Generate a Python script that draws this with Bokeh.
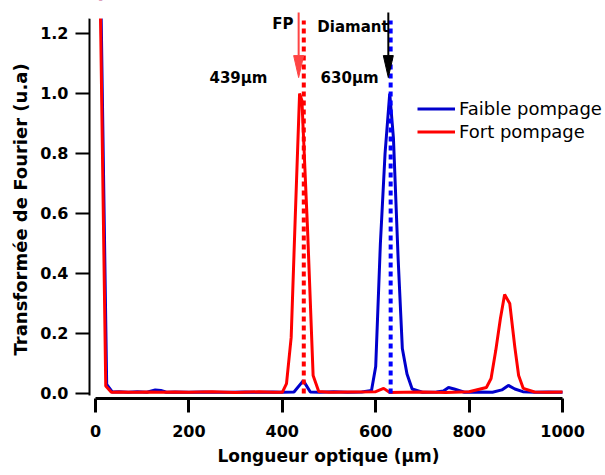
from bokeh.plotting import figure
from bokeh.models import (Range1d, FixedTicker, PrintfTickFormatter, Legend, LegendItem,
                          Label, Arrow, BoxAnnotation, Title)
from bokeh.embed import file_html
from bokeh.resources import INLINE

# ---------------- data ----------------
blue_x = [5, 24, 36, 50, 70, 90, 110, 128, 140, 152, 170, 200, 230, 260, 290, 320, 350, 380,
          400, 425, 445, 460, 480, 510, 540, 570, 591, 600, 610, 620, 630, 638, 648, 657, 667,
          678, 700, 730, 745, 756, 768, 790, 820, 850, 870, 884, 898, 915, 940, 970, 1000]
blue_y = [2.0, 0.03, 0.005, 0.006, 0.004, 0.006, 0.004, 0.012, 0.01, 0.004, 0.005, 0.004,
          0.005, 0.004, 0.004, 0.005, 0.004, 0.005, 0.004, 0.005, 0.043, 0.005, 0.004, 0.006,
          0.004, 0.005, 0.01, 0.09, 0.5, 0.8, 1.0, 0.85, 0.45, 0.15, 0.065, 0.015, 0.004,
          0.005, 0.008, 0.02, 0.015, 0.004, 0.005, 0.004, 0.012, 0.027, 0.015, 0.006, 0.004,
          0.005, 0.004]

red_x = [4, 22, 34, 50, 80, 110, 140, 170, 200, 250, 300, 350, 380, 400, 409, 419, 428, 437,
         442, 454, 466, 478, 500, 550, 600, 617, 630, 660, 700, 750, 800, 837, 847, 857, 867,
         876, 887, 898, 906, 916, 940, 970, 1000]
red_y = [2.0, 0.025, 0.004, 0.005, 0.004, 0.005, 0.004, 0.005, 0.004, 0.006, 0.003, 0.006,
         0.004, 0.004, 0.033, 0.187, 0.6, 1.0, 0.977, 0.55, 0.06, 0.007, 0.004, 0.005, 0.006,
         0.017, 0.003, 0.004, 0.005, 0.003, 0.006, 0.02, 0.05, 0.143, 0.25, 0.33, 0.30, 0.153,
         0.06, 0.017, 0.005, 0.004, 0.005]

series_names = ["Faible pompage", "Fort pompage"]
x_ticks = [0, 200, 400, 600, 800, 1000]
y_ticks = [0.0, 0.2, 0.4, 0.6, 0.8, 1.0, 1.2]

fp_pos = 446        # red dotted line
diam_pos = 632      # blue dotted line
fp_arrow_x = 435
diam_arrow_x = 627
fp_label = "439µm"
diam_label = "630µm"

Y_TOP = 1.25

# ---------------- figure ----------------
p = figure(width=605, height=475, x_range=Range1d(-12.8, 1092), y_range=Range1d(-0.0167, 1.31),
           output_backend="svg", toolbar_location=None,
           min_border_left=89, min_border_right=0, min_border_top=0, min_border_bottom=77)
p.outline_line_color = None
p.grid.visible = False
p.background_fill_color = "white"

FONT = "DejaVu Sans"

xa = p.xaxis[0]
xa.ticker = FixedTicker(ticks=x_ticks)
xa.bounds = (0, 1000)
xa.axis_line_width = 3
xa.major_tick_line_width = 3
xa.major_tick_out = 14
xa.major_tick_in = 0
xa.minor_tick_line_color = None
xa.major_label_standoff = 12
xa.major_label_text_font = FONT
xa.major_label_text_font_style = "bold"
xa.major_label_text_font_size = "16px"
xa.major_label_text_color = "black"

# x axis title, under the 0-1000 axis line
p.add_layout(Title(text="Longueur optique (µm)", align="left", offset=128, standoff=9,
                   text_font=FONT, text_font_size="17px", text_font_style="bold",
                   text_color="black"), "below")

ya = p.yaxis[0]
ya.ticker = FixedTicker(ticks=y_ticks)
ya.formatter = PrintfTickFormatter(format="%.1f")
ya.bounds = (-0.006, Y_TOP)
ya.axis_line_width = 2
ya.major_tick_line_width = 2
ya.major_tick_out = 14
ya.major_tick_in = 0
ya.minor_tick_line_color = None
ya.major_label_standoff = 7
ya.major_label_text_font = FONT
ya.major_label_text_font_style = "bold"
ya.major_label_text_font_size = "16px"
ya.major_label_text_color = "black"

# y axis title, beside the axis line
p.add_layout(Title(text="Transformée de Fourier (u.a)", align="left", offset=43, standoff=14,
                   text_font=FONT, text_font_size="18px", text_font_style="bold",
                   text_color="black"), "left")

# curves
rb = p.line(blue_x, blue_y, line_color="#0000cc", line_width=3)
rr = p.line(red_x, red_y, line_color="#ff0000", line_width=3)

# dotted markers
p.segment(x0=[fp_pos], y0=[0.0], x1=[fp_pos], y1=[1.243], line_color="#ff0000",
          line_width=4, line_dash="5 4")
p.segment(x0=[diam_pos], y0=[0.0], x1=[diam_pos], y1=[1.243], line_color="#0000ff",
          line_width=4, line_dash="5 4")

# arrow heads (glyphs)
tip_y = 1.053
head_len = 22 / 300.0
head_half = 5 / 0.467
arrows = [(fp_arrow_x, "#ff4444"), (diam_arrow_x, "black")]
for ax, col in arrows:
    p.patch([ax - head_half, ax, ax + head_half], [tip_y + head_len, tip_y, tip_y + head_len],
            fill_color=col, line_color=col, line_width=1)

# mask the curves above the top of the y axis
p.add_layout(BoxAnnotation(bottom=Y_TOP, top=10.0, left=-100, right=2000,
                           fill_color="white", fill_alpha=1.0, line_color=None))

# arrow shafts (annotations, above the mask)
for ax, col in arrows:
    p.add_layout(Arrow(end=None, x_start=ax, y_start=1.27, x_end=ax, y_end=tip_y + head_len,
                       line_color=col, line_width=2))

def lab(text, x, y, align="left"):
    p.add_layout(Label(text=text, x=x, y=y, text_align=align, text_baseline="alphabetic",
                       text_font=FONT, text_font_size="15px", text_font_style="bold",
                       text_color="black"))

lab("FP", 424, 1.23, align="right")
lab("Diamant", 475, 1.22)
lab(fp_label, 244, 1.05)
lab(diam_label, 482, 1.05)

# legend
legend = Legend(items=[LegendItem(label=series_names[0], renderers=[rb]),
                       LegendItem(label=series_names[1], renderers=[rr])],
                location=(328, 255), glyph_width=38, glyph_height=23, label_height=23,
                label_standoff=4, spacing=0, padding=0, margin=0,
                border_line_color=None, background_fill_alpha=0,
                label_text_font=FONT, label_text_font_size="18px", label_text_color="black")
p.add_layout(legend)

open("out.html", "w").write(file_html(p, INLINE))
